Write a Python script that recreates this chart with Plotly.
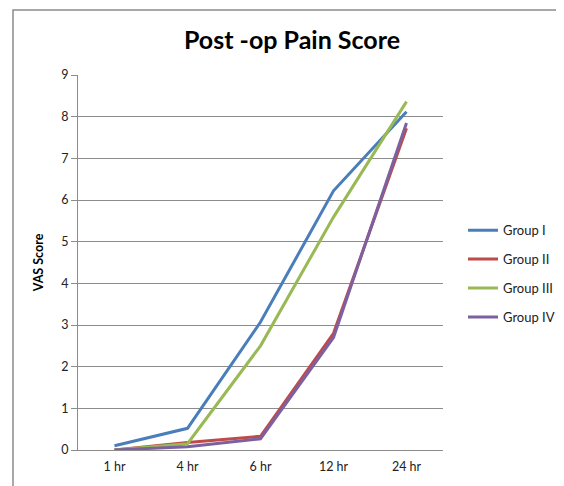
import plotly.graph_objects as go

categories = ["1 hr", "4 hr", "6 hr", "12 hr", "24 hr"]
group_names = ["Group I", "Group II", "Group III", "Group IV"]
group1 = [0.10, 0.52, 3.07, 6.22, 8.12]
group2 = [0.00, 0.18, 0.33, 2.80, 7.72]
group3 = [0.00, 0.15, 2.50, 5.59, 8.36]
group4 = [0.00, 0.08, 0.27, 2.70, 7.85]
colors = ["#4A7EBB", "#BE4B48", "#98B954", "#7D60A0"]

fig = go.Figure()
for name, vals, col in zip(group_names, [group1, group2, group3, group4], colors):
    fig.add_trace(go.Scatter(x=categories, y=vals, mode="lines", name=name,
                             legendgroup=name,
                             line=dict(color=col, width=3)))

font_family = "Lato, 'Open Sans', sans-serif"
# page body has an 8px default margin, so the figure is sized/offset to compensate
fig.update_layout(
    width=556, height=478,
    margin=dict(l=70, r=121, t=67, b=36, autoexpand=False),
    paper_bgcolor="white", plot_bgcolor="white",
    font=dict(family=font_family, size=12, color="#222"),
    title=dict(text="<b>Post -op Pain Score</b>", x=(292 - 8) / 556, xref="container",
               xanchor="center", y=1 - (40 - 8) / 478, yref="container", yanchor="middle",
               font=dict(size=25, color="#000", family=font_family)),
    legend=dict(x=(463 - 8) / 556, xref="container", xanchor="left", y=0.47, yanchor="middle",
                font=dict(size=13, color="#222"), tracegroupgap=9,
                bgcolor="rgba(0,0,0,0)", itemwidth=30),
    showlegend=True,
)
fig.update_xaxes(type="category", showgrid=False, showline=True, linecolor="#8c8c8c",
                 linewidth=1, ticks="", tickfont=dict(size=12.5, color="#222"),
                 range=[-0.5, 4.5], fixedrange=True, ticklabelstandoff=5)
fig.update_yaxes(range=[0, 9], dtick=1, showgrid=True, gridcolor="#8c8c8c", gridwidth=1,
                 showline=True, linecolor="#8c8c8c", linewidth=1, ticks="outside",
                 ticklen=6, tickcolor="#8c8c8c", zeroline=False,
                 tickfont=dict(size=12.5, color="#222"),
                 title=dict(text="<b>VAS Score</b>", font=dict(size=12.5, color="#000"),
                            standoff=14))
fig.add_shape(type="rect", xref="paper", yref="paper",
              x0=-(78 - 13) / 365, x1=1.6, y0=-0.5, y1=1 + (75 - 10) / 375,
              line=dict(color="#8c8c8c", width=1.5), layer="below")
fig.write_html("out.html")
